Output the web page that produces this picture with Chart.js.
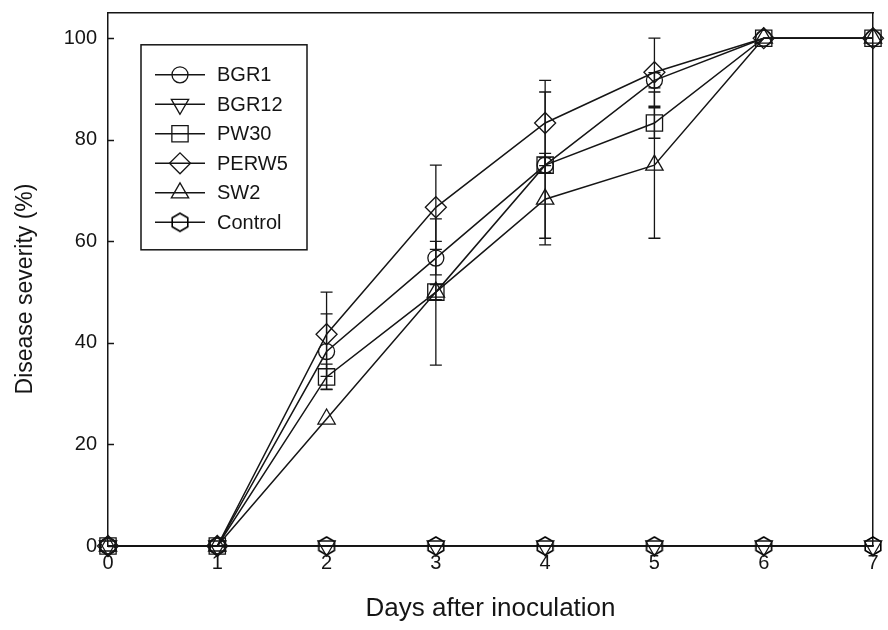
<!DOCTYPE html>
<html><head><meta charset="utf-8">
<script src="https://cdn.jsdelivr.net/npm/chart.js@4.4.0/dist/chart.umd.min.js"></script>
<style>html,body{margin:0;padding:0;background:#fff;} #wrap{width:888px;height:630px;position:relative;}</style>
</head><body><div id="wrap"><canvas id="c"></canvas></div>
<script>
const days = [0, 1, 2, 3, 4, 5, 6, 7];
const seriesNames = ['BGR1', 'BGR12', 'PW30', 'PERW5', 'SW2', 'Control'];
const bgr1     = [0, 0, 38.3, 56.7, 75.0, 91.7, 100, 100];
const bgr1Err  = [0, 0, 7.4, 3.3, 14.4, 1.5, 0, 0];
const bgr12    = [0, 0, 0, 0, 0, 0, 0, 0];
const bgr12Err = [0, 0, 0, 0, 0, 0, 0, 0];
const pw30     = [0, 0, 33.3, 50.0, 75.0, 83.3, 100, 100];
const pw30Err  = [0, 0, 2.5, 1.5, 1.5, 3.0, 0, 0];
const perw5    = [0, 0, 41.7, 66.7, 83.3, 93.3, 100, 100];
const perw5Err = [0, 0, 8.3, 8.3, 8.4, 6.7, 0, 0];
const sw2      = [0, 0, 25.0, 50.0, 68.3, 75.0, 100, 100];
const sw2Err   = [0, 0, 0, 14.4, 9.0, 14.4, 0, 0];
const control    = [0, 0, 0, 0, 0, 0, 0, 0];
const controlErr = [0, 0, 0, 0, 0, 0, 0, 0];
const yTicks = [0, 20, 40, 60, 80, 100];
const xTicks = [0, 1, 2, 3, 4, 5, 6, 7];

const INK = '#151515';
function makeHex(r) {
  const s = Math.ceil(r * 2 + 4);
  const cv = document.createElement('canvas');
  cv.width = s; cv.height = s;
  const c = cv.getContext('2d');
  c.strokeStyle = '#000'; c.lineWidth = 1.6;
  c.beginPath();
  for (let k = 0; k < 6; k++) {
    const a = -Math.PI / 2 + k * Math.PI / 3;
    const px = s / 2 + r * Math.cos(a), py = s / 2 + r * Math.sin(a);
    if (k === 0) c.moveTo(px, py); else c.lineTo(px, py);
  }
  c.closePath(); c.stroke();
  return cv;
}
const hexImg = makeHex(9);

const values = [bgr1, bgr12, pw30, perw5, sw2, control];
const errors = [bgr1Err, bgr12Err, pw30Err, perw5Err, sw2Err, controlErr];
const styles = [
  {pointStyle: 'circle', rotation: 0, radius: 8},
  {pointStyle: 'triangle', rotation: 180, radius: 10},
  {pointStyle: 'rect', rotation: 0, radius: 11.5},
  {pointStyle: 'rectRot', rotation: 0, radius: 10.5},
  {pointStyle: 'triangle', rotation: 0, radius: 10},
  {pointStyle: hexImg, rotation: 0, radius: 9}
];

const datasets = seriesNames.map((name, i) => ({
  label: name,
  data: days.map((d, j) => ({x: d, y: values[i][j]})),
  errs: errors[i],
  borderColor: INK,
  borderWidth: 1.5,
  backgroundColor: 'rgba(0,0,0,0)',
  pointStyle: styles[i].pointStyle,
  rotation: styles[i].rotation,
  pointRadius: styles[i].radius,
  pointHoverRadius: styles[i].radius,
  pointBorderColor: INK,
  pointBackgroundColor: 'rgba(0,0,0,0)',
  pointBorderWidth: 1.3,
  tension: 0,
  clip: false
}));

const errorBarPlugin = {
  id: 'errorBars',
  afterDatasetsDraw(chart) {
    const ctx = chart.ctx, xs = chart.scales.x, ys = chart.scales.y;
    ctx.save();
    ctx.strokeStyle = INK; ctx.lineWidth = 1.3;
    chart.data.datasets.forEach(ds => {
      ds.data.forEach((p, j) => {
        const e = ds.errs[j];
        if (!e) return;
        const x = xs.getPixelForValue(p.x);
        const yt = ys.getPixelForValue(p.y + e);
        const yb = ys.getPixelForValue(p.y - e);
        ctx.beginPath();
        ctx.moveTo(x, yt); ctx.lineTo(x, yb);
        ctx.moveTo(x - 6, yt); ctx.lineTo(x + 6, yt);
        ctx.moveTo(x - 6, yb); ctx.lineTo(x + 6, yb);
        ctx.stroke();
      });
    });
    ctx.restore();
  }
};

const innerTickPlugin = {
  id: 'innerTicks',
  afterDraw(chart) {
    const ctx = chart.ctx, ys = chart.scales.y;
    ctx.save();
    ctx.strokeStyle = INK; ctx.lineWidth = 1.5;
    ys.ticks.forEach(t => {
      const y = Math.round(ys.getPixelForValue(t.value)) + 0.5;
      ctx.beginPath();
      ctx.moveTo(ys.right, y); ctx.lineTo(ys.right + 6, y);
      ctx.stroke();
    });
    ctx.restore();
  }
};

const boxLegendPlugin = {
  id: 'boxLegend',
  afterDraw(chart) {
    const ctx = chart.ctx, a = chart.chartArea;
    const left = a.left + 33, top = a.top + 32, w = 166, h = 205;
    ctx.save();
    ctx.fillStyle = '#fff';
    ctx.fillRect(left, top, w, h);
    ctx.strokeStyle = INK; ctx.lineWidth = 1.5;
    ctx.strokeRect(left, top, w, h);
    ctx.font = '20px "Liberation Sans", Arial, sans-serif';
    ctx.textBaseline = 'middle';
    chart.data.datasets.forEach((ds, i) => {
      const y = top + 30 + i * 29.5;
      ctx.beginPath();
      ctx.lineWidth = 1.5;
      ctx.strokeStyle = INK;
      ctx.moveTo(left + 14, y); ctx.lineTo(left + 64, y);
      ctx.stroke();
      ctx.fillStyle = 'rgba(0,0,0,0)';
      ctx.lineWidth = 1.3;
      Chart.helpers.drawPoint(ctx, {
        pointStyle: ds.pointStyle, rotation: ds.rotation, radius: ds.pointRadius, borderWidth: 1.3
      }, left + 39, y);
      ctx.fillStyle = INK;
      ctx.fillText(ds.label, left + 76, y + 1);
    });
    ctx.restore();
  }
};

const tickFont = {family: '"Liberation Sans", Arial, sans-serif', size: 20};
const noPad = ax => { ax.paddingTop = 0; ax.paddingBottom = 0; ax.paddingLeft = 0; ax.paddingRight = 0; };

new Chart(document.getElementById('c'), {
  type: 'line',
  data: {datasets},
  plugins: [errorBarPlugin, innerTickPlugin, boxLegendPlugin],
  options: {
    responsive: true,
    maintainAspectRatio: false,
    animation: false,
    layout: {padding: {left: 0, top: 11, right: 15, bottom: 0}},
    plugins: {legend: {display: false}, tooltip: {enabled: false}},
    scales: {
      x: {
        type: 'linear', position: 'bottom', min: 0, max: 7,
        afterBuildTicks: ax => { ax.ticks = xTicks.map(v => ({value: v})); },
        afterFit: ax => { ax.height = 84; noPad(ax); },
        grid: {drawOnChartArea: false, drawTicks: false},
        border: {display: true, color: INK, width: 1.5},
        ticks: {color: INK, font: tickFont, padding: 5, maxRotation: 0},
        title: {display: true, text: 'Days after inoculation', color: INK,
                font: {family: '"Liberation Sans", Arial, sans-serif', size: 26}, padding: {top: 0, bottom: 6}}
      },
      x2: {
        type: 'linear', position: 'top', min: 0, max: 7,
        afterFit: ax => { ax.height = 0; noPad(ax); },
        grid: {display: false, drawTicks: false},
        border: {display: true, color: INK, width: 1.5},
        ticks: {display: false}
      },
      y: {
        type: 'linear', position: 'left', min: 0, max: 105,
        afterBuildTicks: ax => { ax.ticks = yTicks.map(v => ({value: v})); },
        afterFit: ax => { ax.width = 108; noPad(ax); },
        grid: {drawOnChartArea: false, drawTicks: false},
        border: {display: true, color: INK, width: 1.5},
        ticks: {color: INK, font: tickFont, padding: 11},
        title: {display: true, text: 'Disease severity (%)   ', color: INK,
                font: {family: '"Liberation Sans", Arial, sans-serif', size: 23}, padding: {top: 12, bottom: 0}}
      },
      y2: {
        type: 'linear', position: 'right', min: 0, max: 105,
        afterFit: ax => { ax.width = 0; noPad(ax); },
        grid: {display: false, drawTicks: false},
        border: {display: true, color: INK, width: 1.5},
        ticks: {display: false}
      }
    }
  }
});
</script></body></html>
